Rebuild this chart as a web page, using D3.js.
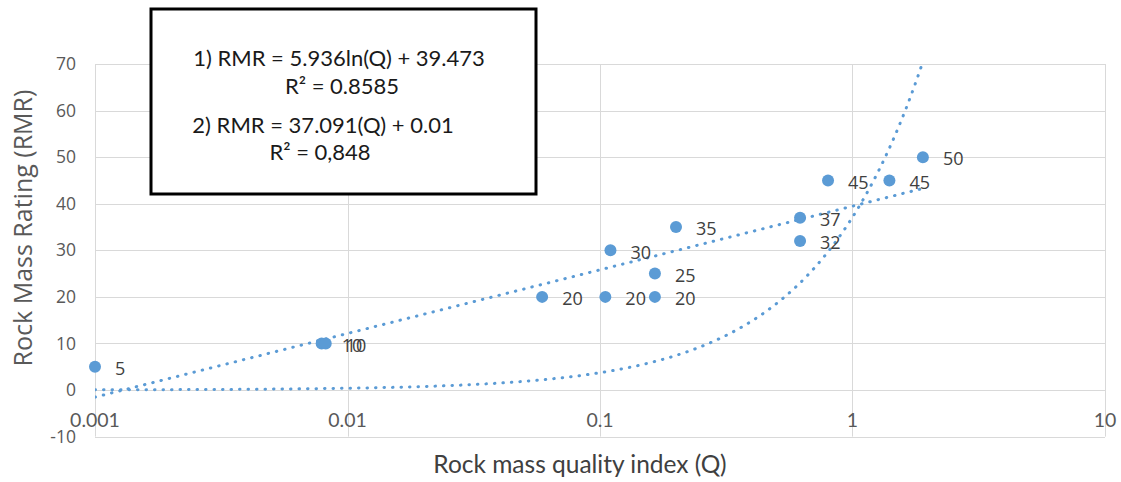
<!DOCTYPE html>
<meta charset="utf-8">
<style>
body, html {
  padding: 0;
  margin: 0;
  background: #fff;
}
.grid line {
  stroke: #d9d9d9;
  stroke-width: 1px;
}
.ytick {
  font: 17.5px "Open Sans", sans-serif;
  fill: #595959;
}
.xtick {
  font: 19.5px Lato, sans-serif;
  fill: #595959;
}
.label {
  font: 18px "Open Sans", sans-serif;
  fill: #404040;
}
.trend {
  fill: none;
  stroke: #5b9bd5;
  stroke-width: 3px;
  stroke-linecap: round;
  stroke-dasharray: 0.5 8;
}
.legend text {
  font: 22px Lato, sans-serif;
  fill: #1a1a1a;
  text-anchor: middle;
}
</style>
<body>
<script src="https://d3js.org/d3.v7.min.js"></script>
<script>

var width = 1121,
    height = 482

// rock mass quality index Q and rating RMR for each sample
var qValues = [0.001, 0.0079, 0.0082, 0.059, 0.105, 0.11, 0.165, 0.165, 0.2, 0.62, 0.62, 0.8, 1.4, 1.9]
var rmrValues = [5, 10, 10, 20, 20, 30, 25, 20, 35, 37, 32, 45, 45, 50]

var xTicks = [0.001, 0.01, 0.1, 1, 10]
var xTickLabels = ["0.001", "0.01", "0.1", "1", "10"]
var yTicks = [-10, 0, 10, 20, 30, 40, 50, 60, 70]

var legendLines = [
  "1) RMR = 5.936ln(Q) + 39.473",
  "R² = 0.8585",
  "2) RMR = 37.091(Q) + 0.01",
  "R² = 0,848"
]

// fitted trend lines, as given in the box
var logFit = function (q) { return 5.936 * Math.log(q) + 39.473 }
var linFit = function (q) { return 37.091 * q + 0.01 }

var x = d3.scaleLog()
    .domain([0.001, 10])
    .range([95, 1105])

var y = d3.scaleLinear()
    .domain([-10, 70])
    .range([436.6, 64])

var svg = d3.select("body").append("svg")
    .attr("width", width)
    .attr("height", height)

var grid = svg.append("g").attr("class", "grid")

grid.selectAll(".h")
    .data(yTicks)
    .enter().append("line")
    .attr("x1", x(0.001)).attr("x2", x(10))
    .attr("y1", function(d) { return Math.round(y(d)) + 0.5 })
    .attr("y2", function(d) { return Math.round(y(d)) + 0.5 })

grid.selectAll(".v")
    .data(xTicks)
    .enter().append("line")
    .attr("y1", y(70)).attr("y2", y(-10))
    .attr("x1", function(d) { return Math.round(x(d)) + 0.5 })
    .attr("x2", function(d) { return Math.round(x(d)) + 0.5 })

svg.selectAll(".ytick")
    .data(yTicks)
    .enter().append("text")
    .attr("class", "ytick")
    .attr("x", 76)
    .attr("y", function(d) { return y(d) })
    .attr("dy", "0.35em")
    .attr("text-anchor", "end")
    .text(function(d) { return d })

svg.selectAll(".xtick")
    .data(xTicks)
    .enter().append("text")
    .attr("class", "xtick")
    .attr("x", function(d) { return x(d) })
    .attr("y", 420)
    .attr("dy", "0.35em")
    .attr("text-anchor", "middle")
    .text(function(d, i) { return xTickLabels[i] })

svg.append("text")
    .attr("transform", "translate(32,228) rotate(-90)")
    .attr("text-anchor", "middle")
    .style("font", "25px 'Open Sans', sans-serif")
    .style("fill", "#595959")
    .text("Rock Mass Rating (RMR)")

svg.append("text")
    .attr("x", 580)
    .attr("y", 473)
    .attr("text-anchor", "middle")
    .style("font", "24.5px Lato, sans-serif")
    .style("fill", "#404040")
    .text("Rock mass quality index (Q)")

// trend lines, clipped to the plot area
svg.append("clipPath").attr("id", "plot")
  .append("rect")
    .attr("x", x(0.001)).attr("y", y(70))
    .attr("width", x(10) - x(0.001))
    .attr("height", y(-10) - y(70))

var qMin = d3.min(qValues), qMax = d3.max(qValues)
var steps = d3.range(0, 201).map(function(i) {
  return Math.exp(Math.log(qMin) + (Math.log(qMax) - Math.log(qMin)) * i / 200)
})

var line = function (f) {
  return d3.line()
      .x(function(q) { return x(q) })
      .y(function(q) { return y(f(q)) })
}

var trends = svg.append("g").attr("clip-path", "url(#plot)")
trends.append("path").attr("class", "trend").attr("d", line(logFit)(steps))
trends.append("path").attr("class", "trend").attr("d", line(linFit)(steps))

svg.selectAll(".dot")
    .data(qValues)
    .enter().append("circle")
    .attr("cx", function(d) { return x(d) })
    .attr("cy", function(d, i) { return y(rmrValues[i]) })
    .attr("r", 6)
    .style("fill", "#5b9bd5")

svg.selectAll(".label")
    .data(qValues)
    .enter().append("text")
    .attr("class", "label")
    .attr("x", function(d) { return x(d) + 20 })
    .attr("y", function(d, i) { return y(rmrValues[i]) + 2 })
    .attr("dy", "0.35em")
    .text(function(d, i) { return rmrValues[i] })

var legend = svg.append("g").attr("class", "legend")

legend.append("rect")
    .attr("x", 151).attr("y", 9)
    .attr("width", 385).attr("height", 185)
    .style("fill", "#fff")
    .style("stroke", "#000")
    .style("stroke-width", 3)

var legendX = [339, 342, 323, 320],
    legendY = [66, 94, 133, 160]

legend.selectAll("text")
    .data(legendLines)
    .enter().append("text")
    .attr("x", function(d, i) { return legendX[i] })
    .attr("y", function(d, i) { return legendY[i] })
    .text(function(d) { return d })

</script>
</body>
